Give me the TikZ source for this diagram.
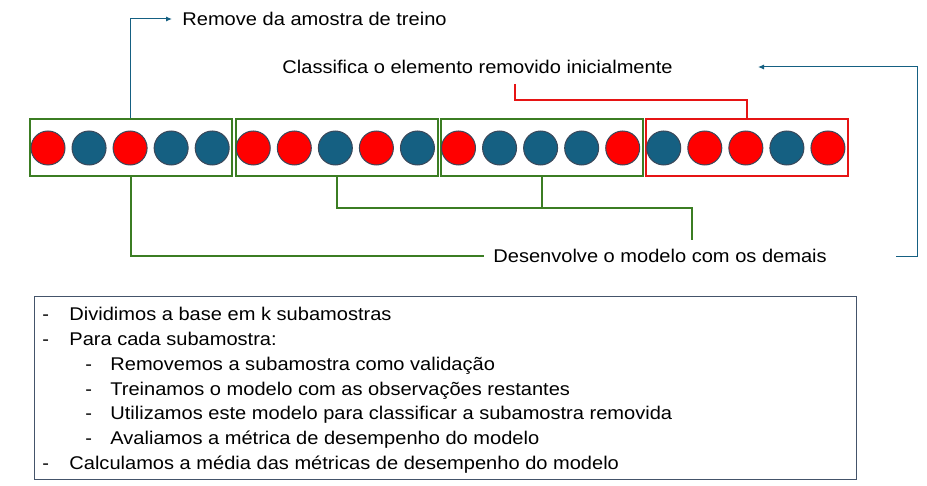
\documentclass[tikz,border=0pt]{standalone}
\usepackage{fontspec}
\setmainfont{Liberation Sans}[FakeStretch=1.09]
\usepackage{tikz}
\usetikzlibrary{arrows.meta,positioning,calc}
\definecolor{DotRed}{RGB}{255,0,0}
\definecolor{DotBlue}{RGB}{21,96,130}
\definecolor{DotEdge}{RGB}{58,72,90}
\definecolor{FoldGreen}{RGB}{59,125,35}
\definecolor{FoldRed}{RGB}{230,20,20}
\definecolor{NoteEdge}{RGB}{68,84,106}

\begin{document}
\begin{tikzpicture}[x=0.5pt,y=-0.5pt,
    every node/.style={font=\fontsize{9.2}{11}\selectfont},
    dot/.style={circle,draw=DotEdge,line width=0.5pt,minimum size=17pt,inner sep=0pt},
    fold/.style={draw=FoldGreen,line width=1pt,minimum width=101pt,minimum height=28.5pt,inner sep=0pt},
    testfold/.style={fold,draw=FoldRed},
    greenlink/.style={FoldGreen,line width=1pt},
    redlink/.style={FoldRed,line width=1pt},
    bluelink/.style={DotBlue,line width=0.5pt,-{Latex[length=3pt,width=2.5pt]}},
    label/.style={inner ysep=0pt,inner xsep=0pt}]
  \useasboundingbox (0,0) rectangle (927,486);

  % folds
  \node[fold] (fold1) at (130.5,147.5) {};
  \node[fold] (fold2) at (336.5,147.5) {};
  \node[fold] (fold3) at (541.5,147.5) {};
  \node[testfold] (fold4) at (747,147.5) {};

  % observations
  \foreach \c [count=\i] in {DotRed,DotBlue,DotRed,DotBlue,DotBlue,
                             DotRed,DotRed,DotBlue,DotRed,DotBlue,
                             DotRed,DotBlue,DotBlue,DotBlue,DotRed,
                             DotBlue,DotRed,DotRed,DotBlue,DotRed}
    \node[dot,fill=\c] (obs\i) at ({48+41.05*(\i-1)},148) {};

  % labels
  \node[label,inner xsep=5pt,anchor=west] (remove) at (172,19) {Remove da amostra de treino};
  \node[label] (classify) at (477.5,67) {Classifica o elemento removido inicialmente};
  \node[label,inner xsep=4.5pt,anchor=west] (develop) at (484,256) {Desenvolve o modelo com os demais};

  % connectors
  \draw[bluelink] (fold1.north) |- (remove.west);
  \coordinate (clsfoot) at (515,84);
  \draw[redlink] (clsfoot) -- ++(0,16) -| (fold4.north);
  \draw[greenlink] (fold1.south) |- (develop.west);
  \coordinate (devjoin) at (fold3.south |- 0,208);
  \coordinate (devtip) at (692,240);
  \draw[greenlink] (fold2.south) |- (devjoin) -| (devtip);
  \draw[greenlink] (fold3.south) -- (devjoin);
  \coordinate (loopstart) at (896,257);
  \coordinate (loopend) at (758,67);
  \draw[bluelink] (loopstart) -- ++(21,0) |- (loopend);

  % steps
  \node[draw=NoteEdge,line width=0.5pt,minimum width=411pt,minimum height=91pt,inner sep=0pt]
    (steps) at (445,388) {};
  \foreach \lvl/\txt [count=\n] in {
      1/Dividimos a base em k subamostras,
      1/Para cada subamostra:,
      2/Removemos a subamostra como validação,
      2/Treinamos o modelo com as observações restantes,
      2/Utilizamos este modelo para classificar a subamostra removida,
      2/Avaliamos a métrica de desempenho do modelo,
      1/Calculamos a média das métricas de desempenho do modelo} {
    \node[label,anchor=base west] (dash\n) at ({42+43*(\lvl-1)},{321+24.67*(\n-1)}) {-};
    \node[label,anchor=base west] (item\n) at ({69+41*(\lvl-1)},{321+24.67*(\n-1)}) {\txt};
  }
\end{tikzpicture}
\end{document}
